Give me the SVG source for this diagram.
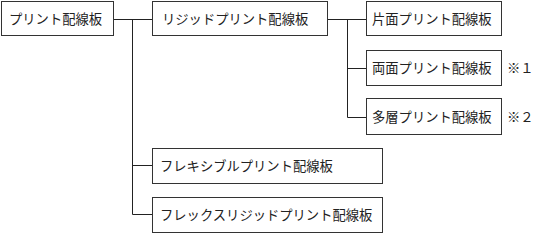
<svg xmlns="http://www.w3.org/2000/svg" width="537" height="234" viewBox="0 0 537 234">
<style>
.box{fill:#fff;stroke:#333;stroke-width:1}
.t{font-family:"Noto Sans CJK JP","Noto Sans CJK SC",sans-serif;font-size:13.3px;fill:#222}
.c{fill:none;stroke:#222;stroke-width:1}
</style>
<rect width="537" height="234" fill="#fff"/>
<g id="connectors">
<path class="c" d="M113.5 19.5H152M132.5 19.5V214.5H152M132.5 165.5H152"/>
<path class="c" d="M327 19.5H366M347.5 19.5V117.5H366M347.5 68.5H366"/>
</g>
<g id="n1"><rect class="box" x="1.5" y="1.5" width="112" height="34"/><text class="t" x="9" y="23.5">プリント配線板</text></g>
<g id="n2"><rect class="box" x="152.5" y="1.5" width="175" height="34"/><text class="t" x="162" y="23.5">リジッドプリント配線板</text></g>
<g id="n3"><rect class="box" x="366.5" y="1.5" width="135" height="34"/><text class="t" x="372" y="23.5">片面プリント配線板</text></g>
<g id="n4"><rect class="box" x="366.5" y="50.5" width="135" height="35"/><text class="t" x="372" y="72.5">両面プリント配線板</text></g>
<g id="n5"><rect class="box" x="366.5" y="98.5" width="135" height="36"/><text class="t" x="372" y="121.5">多層プリント配線板</text></g>
<g id="n6"><rect class="box" x="152.5" y="148.5" width="230" height="35"/><text class="t" x="160" y="170.5">フレキシブルプリント配線板</text></g>
<g id="n7"><rect class="box" x="152.5" y="197.5" width="230" height="35"/><text class="t" x="160" y="219.5">フレックスリジッドプリント配線板</text></g>
<g id="notes"><text class="t" x="507" y="72.5">※１</text><text class="t" x="507" y="121.5">※２</text></g>
</svg>
